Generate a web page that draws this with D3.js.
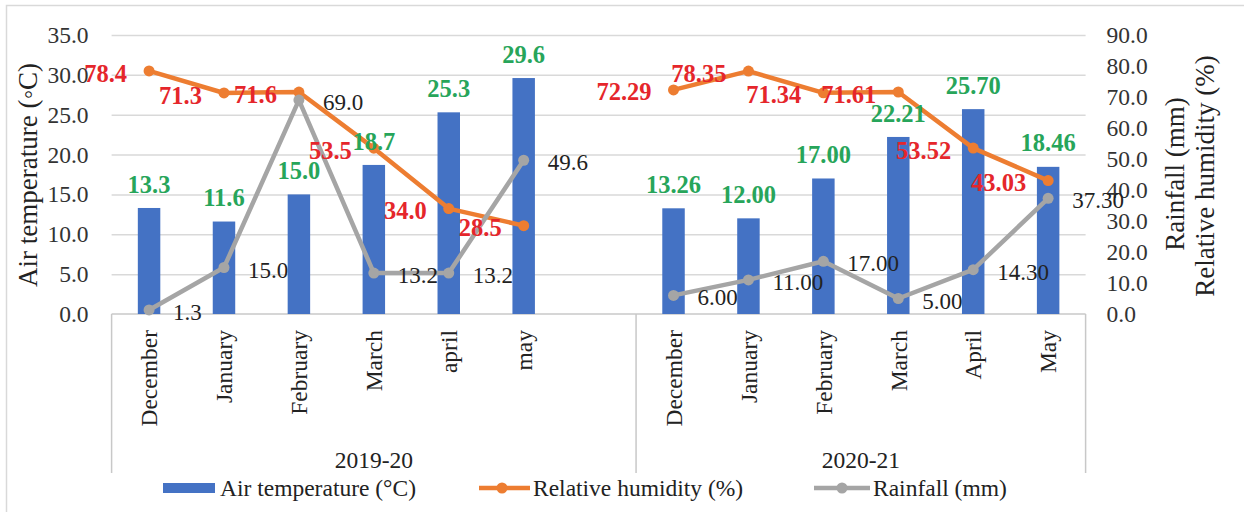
<!DOCTYPE html>
<html>
<head>
<meta charset="utf-8">
<script src="https://cdn.jsdelivr.net/npm/d3@7"></script>
<style>
  html, body { margin: 0; padding: 0; background: #fff; }
  svg, svg text { font-family: "Liberation Serif", "Times New Roman", "DejaVu Serif", serif; }
</style>
</head>
<body>
<svg id="chart" width="1244" height="512"></svg>
<script>
// ---- data ----
const groups = ["2019-20", "2020-21"];
const months2019 = ["December", "January", "February", "March", "april", "may"];
const months2020 = ["December", "January", "February", "March", "April", "May"];
const airTemp2019 = [13.3, 11.6, 15.0, 18.7, 25.3, 29.6];
const airTemp2020 = [13.26, 12.00, 17.00, 22.21, 25.70, 18.46];
const humidity2019 = [78.4, 71.3, 71.6, 53.5, 34.0, 28.5];
const humidity2020 = [72.29, 78.35, 71.34, 71.61, 53.52, 43.03];
const rainfall2019 = [1.3, 15.0, 69.0, 13.2, 13.2, 49.6];
const rainfall2020 = [6.00, 11.00, 17.00, 5.00, 14.30, 37.30];
const leftTicks = [0, 5, 10, 15, 20, 25, 30, 35];
const rightTicks = [0, 10, 20, 30, 40, 50, 60, 70, 80, 90];
const decimals = [1, 2];

const FONT = "'Liberation Serif', 'Times New Roman', 'DejaVu Serif', serif";

// build rows
const groupData = [
  {group: groups[0], months: months2019, temp: airTemp2019, hum: humidity2019, rain: rainfall2019, dec: decimals[0]},
  {group: groups[1], months: months2020, temp: airTemp2020, hum: humidity2020, rain: rainfall2020, dec: decimals[1]}
];
const domainKeys = [];
const rows = [];
groupData.forEach((g, gi) => {
  g.months.forEach((m, i) => {
    const key = g.group + "|" + i;
    domainKeys.push(key);
    rows.push({key, group: g.group, gi, month: m, temp: g.temp[i], hum: g.hum[i], rain: g.rain[i], dec: g.dec});
  });
  if (gi === 0) domainKeys.push(g.group + "|blank");
});

// ---- layout ----
const svg = d3.select("#chart");
const W = 1244, H = 512;
const plotL = 111.6, plotR = 1085.6, plotT = 35, plotB = 314;

svg.append("rect").attr("x", 0).attr("y", 0).attr("width", W).attr("height", H).attr("fill", "#fff");
svg.append("rect").attr("x", 6.5).attr("y", 5.5).attr("width", 1260).attr("height", 530)
  .attr("fill", "none").attr("stroke", "#d9d9d9").attr("stroke-width", 1.5);

const x = d3.scaleBand().domain(domainKeys).range([plotL, plotR]).paddingInner(0).paddingOuter(0);
const yL = d3.scaleLinear().domain([0, 35]).range([plotB, plotT]);
const yR = d3.scaleLinear().domain([0, 90]).range([plotB, plotT]);
const cx = k => x(k) + x.bandwidth() / 2;

// gridlines
const grid = svg.append("g").attr("transform", `translate(${plotL},0)`)
  .call(d3.axisLeft(yL).tickValues(leftTicks.filter(t => t > 0)).tickSize(-(plotR - plotL)).tickFormat(""));
grid.select(".domain").remove();
grid.selectAll("line").attr("stroke", "#d9d9d9").attr("stroke-width", 1.5);

// left axis labels
const axL = svg.append("g").attr("transform", `translate(${plotL},0)`)
  .call(d3.axisLeft(yL).tickValues(leftTicks).tickSize(0).tickPadding(23).tickFormat(d3.format(".1f")));
axL.attr("font-family", FONT).attr("font-size", 23.5);
axL.select(".domain").remove();
axL.selectAll("text").attr("font-size", 23.5).attr("fill", "#333").style("font-family", FONT);

// right axis labels
const axR = svg.append("g").attr("transform", `translate(${plotR},0)`)
  .call(d3.axisRight(yR).tickValues(rightTicks).tickSize(0).tickPadding(21).tickFormat(d3.format(".1f")));
axR.attr("font-family", FONT).attr("font-size", 23.5);
axR.select(".domain").remove();
axR.selectAll("text").attr("font-size", 23.5).attr("fill", "#333").style("font-family", FONT);

// axis titles
svg.append("text").attr("transform", "translate(37,175) rotate(-90)").attr("text-anchor", "middle")
  .attr("font-size", 27).attr("fill", "#222").style("font-family", FONT).text("Air temperature (◦C)");
svg.append("text").attr("transform", "translate(1184,174) rotate(-90)").attr("text-anchor", "middle")
  .attr("font-size", 27).attr("fill", "#222").style("font-family", FONT).text("Rainfall (mm)");
svg.append("text").attr("transform", "translate(1214,176) rotate(-90)").attr("text-anchor", "middle")
  .attr("font-size", 27).attr("fill", "#222").style("font-family", FONT).text("Relative humidity (%)");

// category axis lines
const axisColor = "#c8c8c8";
svg.append("line").attr("x1", plotL).attr("x2", plotR).attr("y1", plotB).attr("y2", plotB)
  .attr("stroke", axisColor).attr("stroke-width", 1.5);
const dividers = [plotL, x(domainKeys[6]) + x.bandwidth(), plotR];
svg.selectAll(".div").data(dividers).enter().append("line")
  .attr("x1", d => d).attr("x2", d => d).attr("y1", plotB).attr("y2", 473)
  .attr("stroke", axisColor).attr("stroke-width", 1.5);

// month labels
svg.selectAll(".month").data(rows).enter().append("text")
  .attr("transform", d => `translate(${cx(d.key)},330) rotate(-90)`)
  .attr("text-anchor", "end").attr("dy", "0.35em")
  .attr("font-size", 23.5).attr("fill", "#222").style("font-family", FONT).text(d => d.month);

// group labels
const groupCenters = [(dividers[0] + dividers[1]) / 2, (dividers[1] + dividers[2]) / 2];
svg.selectAll(".grp").data(groups).enter().append("text")
  .attr("x", (d, i) => groupCenters[i]).attr("y", 468).attr("text-anchor", "middle")
  .attr("font-size", 23.5).attr("fill", "#222").style("font-family", FONT).text(d => d);

// bars
const barW = x.bandwidth() * 0.3;
svg.selectAll(".bar").data(rows).enter().append("rect")
  .attr("x", d => cx(d.key) - barW / 2).attr("width", barW)
  .attr("y", d => yL(d.temp)).attr("height", d => plotB - yL(d.temp))
  .attr("fill", "#4472c4");

// lines
const orange = "#ed7d31", gray = "#a5a5a5";
groupData.forEach((g, gi) => {
  const gr = rows.filter(r => r.gi === gi);
  const lineH = d3.line().x(d => cx(d.key)).y(d => yR(d.hum));
  const lineR = d3.line().x(d => cx(d.key)).y(d => yR(d.rain));
  svg.append("path").datum(gr).attr("d", lineH).attr("fill", "none").attr("stroke", orange)
    .attr("stroke-width", 4.5).attr("stroke-linejoin", "round");
  svg.append("path").datum(gr).attr("d", lineR).attr("fill", "none").attr("stroke", gray)
    .attr("stroke-width", 4.5).attr("stroke-linejoin", "round");
});
svg.selectAll(".mh").data(rows).enter().append("circle")
  .attr("cx", d => cx(d.key)).attr("cy", d => yR(d.hum)).attr("r", 5.5).attr("fill", orange);
svg.selectAll(".mr").data(rows).enter().append("circle")
  .attr("cx", d => cx(d.key)).attr("cy", d => yR(d.rain)).attr("r", 5.5).attr("fill", gray);

// data labels
svg.selectAll(".lt").data(rows).enter().append("text")
  .attr("x", d => cx(d.key)).attr("y", d => yL(d.temp) - 24).attr("dy", "0.35em")
  .attr("text-anchor", "middle").attr("font-size", 24.5).attr("font-weight", "bold")
  .attr("fill", "#27a55a").style("font-family", FONT).text(d => d.temp.toFixed(d.dec));
svg.selectAll(".lr").data(rows).enter().append("text")
  .attr("x", d => cx(d.key) + 24).attr("y", d => yR(d.rain) + 2).attr("dy", "0.35em")
  .attr("text-anchor", "start").attr("font-size", 23).attr("fill", "#222")
  .style("font-family", FONT).text(d => d.rain.toFixed(d.dec));
svg.selectAll(".lh").data(rows).enter().append("text")
  .attr("x", d => cx(d.key) - 22).attr("y", d => yR(d.hum) + 2).attr("dy", "0.35em")
  .attr("text-anchor", "end").attr("font-size", 24.5).attr("font-weight", "bold")
  .attr("fill", "#e5262b").style("font-family", FONT).text(d => d.hum.toFixed(d.dec));

// legend
const leg = svg.append("g");
leg.append("rect").attr("x", 163).attr("y", 483).attr("width", 52).attr("height", 10).attr("fill", "#4472c4");
leg.append("text").attr("x", 220).attr("y", 488).attr("dy", "0.35em").attr("font-size", 23.5).attr("fill", "#222")
  .style("font-family", FONT).text("Air temperature (°C)");
leg.append("line").attr("x1", 479).attr("x2", 530).attr("y1", 488).attr("y2", 488).attr("stroke", orange).attr("stroke-width", 4.5);
leg.append("circle").attr("cx", 502).attr("cy", 488).attr("r", 5.5).attr("fill", orange);
leg.append("text").attr("x", 533).attr("y", 488).attr("dy", "0.35em").attr("font-size", 23.5).attr("fill", "#222")
  .style("font-family", FONT).text("Relative humidity (%)");
leg.append("line").attr("x1", 814).attr("x2", 870).attr("y1", 488).attr("y2", 488).attr("stroke", gray).attr("stroke-width", 4.5);
leg.append("circle").attr("cx", 842).attr("cy", 488).attr("r", 5.5).attr("fill", gray);
leg.append("text").attr("x", 873).attr("y", 488).attr("dy", "0.35em").attr("font-size", 23.5).attr("fill", "#222")
  .style("font-family", FONT).text("Rainfall (mm)");
</script>
</body>
</html>
